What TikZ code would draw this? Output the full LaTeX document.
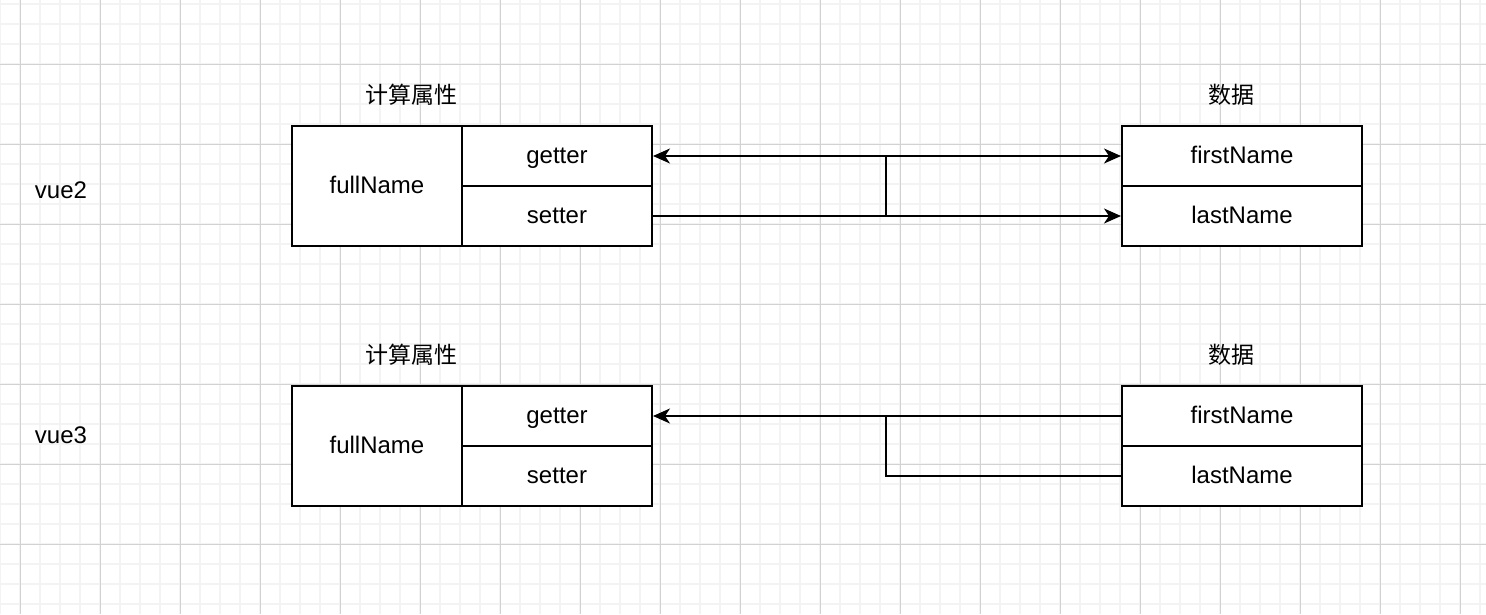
\documentclass[tikz,border=0pt]{standalone}
\usepackage{fontspec}
\setmainfont{Liberation Sans}
\newfontfamily\cjk{Noto Sans CJK SC}
\usetikzlibrary{arrows.meta}
\definecolor{minorgrid}{HTML}{F3F3F3}
\definecolor{majorgrid}{HTML}{D2D2D2}
\tikzset{
  cell/.style={draw=black, line width=2pt, fill=white, inner sep=0pt, anchor=north west,
    font=\fontsize{24}{28}\selectfont, text height=18pt, text depth=3pt},
  lbl/.style={inner sep=0pt, font=\fontsize{24}{28}\selectfont},
  title/.style={inner sep=0pt, font=\cjk\fontsize{23}{27}\selectfont},
  conn/.style={line width=2pt, draw=black},
  arr/.style={conn, -{Stealth[length=17pt,width=15pt,inset=5pt]}},
  biarr/.style={conn, {Stealth[length=17pt,width=15pt,inset=5pt]}-{Stealth[length=17pt,width=15pt,inset=5pt]}}
}
\begin{document}
\begin{tikzpicture}[x=1pt,y=-1pt]
\useasboundingbox (0,0) rectangle (1486,614);
\fill[white] (0,0) rectangle (1486,614);
% minor grid
\foreach \x in {0,20,...,1480} \draw[minorgrid, line width=1.2pt] (\x,0) -- (\x,614);
\foreach \y in {4,24,...,604} \draw[minorgrid, line width=1.2pt] (0,\y) -- (1486,\y);
% major grid
\foreach \x in {20,100,...,1460} \draw[majorgrid, line width=1pt] (\x,0) -- (\x,614);
\foreach \y in {64,144,...,544} \draw[majorgrid, line width=1pt] (0,\y) -- (1486,\y);

% ---- vue2 ----
\node[lbl] (v2) at (61,190) {vue2};
\node[title] (t1) at (411,95) {计算属性};
\node[title] (d1) at (1231,95) {数据};
\node[cell, minimum width=170pt, minimum height=120pt] (full1) at (291,125) {fullName};
\node[cell, minimum width=190pt, minimum height=60pt] (get1) at (461,125) {getter};
\node[cell, minimum width=190pt, minimum height=60pt] (set1) at (461,185) {setter};
\node[cell, minimum width=240pt, minimum height=60pt] (fn1) at (1121,125) {firstName};
\node[cell, minimum width=240pt, minimum height=60pt] (ln1) at (1121,185) {lastName};
\coordinate (j1) at (886,0);
\draw[biarr] (get1.east) -- (fn1.west);
\draw[arr] (set1.east) -- (ln1.west);
\draw[conn] (set1.east) -| (j1 |- fn1.west);

% ---- vue3 ----
\node[lbl] (v3) at (61,435) {vue3};
\node[title] (t2) at (411,355) {计算属性};
\node[title] (d2) at (1231,355) {数据};
\node[cell, minimum width=170pt, minimum height=120pt] (full2) at (291,385) {fullName};
\node[cell, minimum width=190pt, minimum height=60pt] (get2) at (461,385) {getter};
\node[cell, minimum width=190pt, minimum height=60pt] (set2) at (461,445) {setter};
\node[cell, minimum width=240pt, minimum height=60pt] (fn2) at (1121,385) {firstName};
\node[cell, minimum width=240pt, minimum height=60pt] (ln2) at (1121,445) {lastName};
\coordinate (j2) at (886,0);
\draw[arr] (fn2.west) -- (get2.east);
\draw[conn] (ln2.west) -| (j2 |- get2.east);
\end{tikzpicture}
\end{document}
